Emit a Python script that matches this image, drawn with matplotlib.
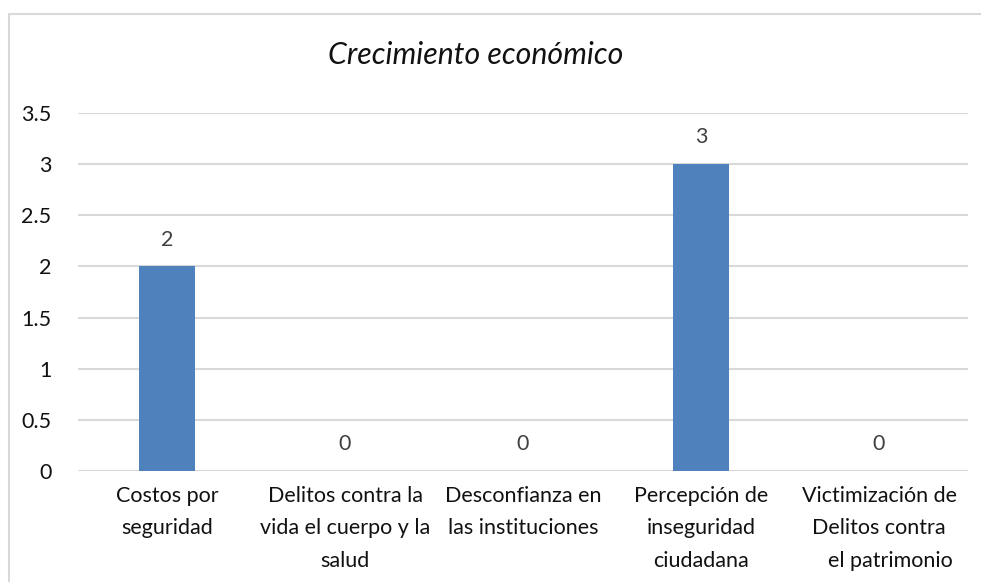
import matplotlib

matplotlib.use("Agg")
import matplotlib.pyplot as plt
from matplotlib.patches import Rectangle

categories = [
    "Costos por\nseguridad",
    "Delitos contra la\nvida el cuerpo y la\nsalud",
    "Desconfianza en\nlas instituciones",
    "Percepción de\ninseguridad\nciudadana",
    "Victimización de\nDelitos contra\n    el patrimonio",
]
values = [2, 0, 0, 3, 0]
yticks = [0, 0.5, 1, 1.5, 2, 2.5, 3, 3.5]

plt.rcParams["font.family"] = ["Lato", "DejaVu Sans"]

W, H = 981, 582
FS = 15.5
fig = plt.figure(figsize=(W / 100, H / 100), dpi=100)
fig.patch.set_facecolor("white")

# chart frame, cropped at right and bottom
fig.add_artist(Rectangle((8.5 / W, -0.05), 1.1, 1 - 13.5 / H + 0.05,
                         transform=fig.transFigure, fill=False,
                         edgecolor="#d9d9d9", linewidth=1.5))

ax = fig.add_axes([78 / W, 1 - 471 / H, 890 / W, 358 / H])
x = range(len(categories))
bars = ax.bar(x, values, width=0.315, color="#4f81bd", zorder=3)

ax.set_xlim(-0.5, len(categories) - 0.5)
ax.set_ylim(0, 3.5)
ax.set_yticks(yticks)
ax.set_yticklabels([f"{t:g}" for t in yticks], fontsize=FS, color="#111111")
ax.set_xticks(list(x))
ax.set_xticklabels(categories, fontsize=FS, color="#111111", linespacing=1.8)
ax.tick_params(axis="both", length=0)
ax.tick_params(axis="x", pad=10.5)
ax.tick_params(axis="y", pad=19)

ax.grid(axis="y", color="#d9d9d9", linewidth=1.5, zorder=0)
for s in ax.spines.values():
    s.set_visible(False)

for b, v in zip(bars, values):
    ax.annotate(f"{v:g}", (b.get_x() + b.get_width() / 2, v),
                xytext=(0, 12), textcoords="offset points",
                ha="center", va="bottom", fontsize=FS, color="#404040")

fig.text(476 / W, 1 - 55 / H, "Crecimiento económico", ha="center", va="center",
         fontsize=21.8, style="italic", color="#111111")

fig.savefig("out.png", dpi=100, facecolor="white")
